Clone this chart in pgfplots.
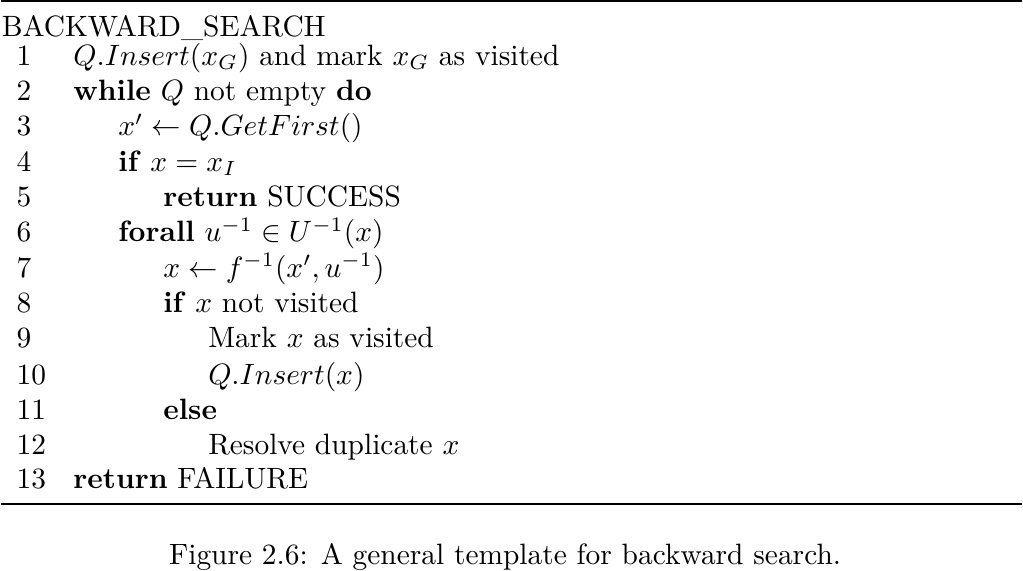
\documentclass[border=0pt]{standalone}
\usepackage{pgfplots}
\pgfplotsset{compat=1.18}
\begin{document}
\begin{tikzpicture}
\begin{axis}[scale only axis, width=372pt, height=202.5pt, xmin=0, xmax=1023, ymin=0, ymax=557, y dir=reverse, axis lines=none, clip=false, ticks=none, nodes={anchor=base west,inner sep=0pt}]
\draw[line width=0.8pt] (axis cs:36,20) -- (axis cs:990,20);
\draw[line width=0.8pt] (axis cs:36,490) -- (axis cs:990,490);
\path (axis cs:36,53) node {BACKWARD\_SEARCH};
\path (axis cs:50,80) node {1};
\path (axis cs:50,113) node {2};
\path (axis cs:50,146) node {3};
\path (axis cs:50,179) node {4};
\path (axis cs:50,212) node {5};
\path (axis cs:50,245) node {6};
\path (axis cs:50,278) node {7};
\path (axis cs:50,311) node {8};
\path (axis cs:50,344) node {9};
\path (axis cs:50,378) node {10};
\path (axis cs:50,411) node {11};
\path (axis cs:50,444) node {12};
\path (axis cs:50,476) node {13};
\path (axis cs:103,80) node {$Q.Insert(x_G)$ and mark $x_G$ as visited};
\path (axis cs:103,113) node {\textbf{while} $Q$ not empty \textbf{do}};
\path (axis cs:145,146) node {$x' \leftarrow Q.GetFirst()$};
\path (axis cs:145,179) node {\textbf{if} $x = x_I$};
\path (axis cs:187,212) node {\textbf{return} SUCCESS};
\path (axis cs:145,245) node {\textbf{forall} $u^{-1} \in U^{-1}(x)$};
\path (axis cs:187,278) node {$x \leftarrow f^{-1}(x',u^{-1})$};
\path (axis cs:187,311) node {\textbf{if} $x$ not visited};
\path (axis cs:229,344) node {Mark $x$ as visited};
\path (axis cs:229,378) node {$Q.Insert(x)$};
\path (axis cs:187,411) node {\textbf{else}};
\path (axis cs:229,444) node {Resolve duplicate $x$};
\path (axis cs:103,476) node {\textbf{return} FAILURE};
\path (axis cs:507,547) node[anchor=base] {Figure 2.6: A general template for backward search.};
\end{axis}
\end{tikzpicture}
\end{document}
